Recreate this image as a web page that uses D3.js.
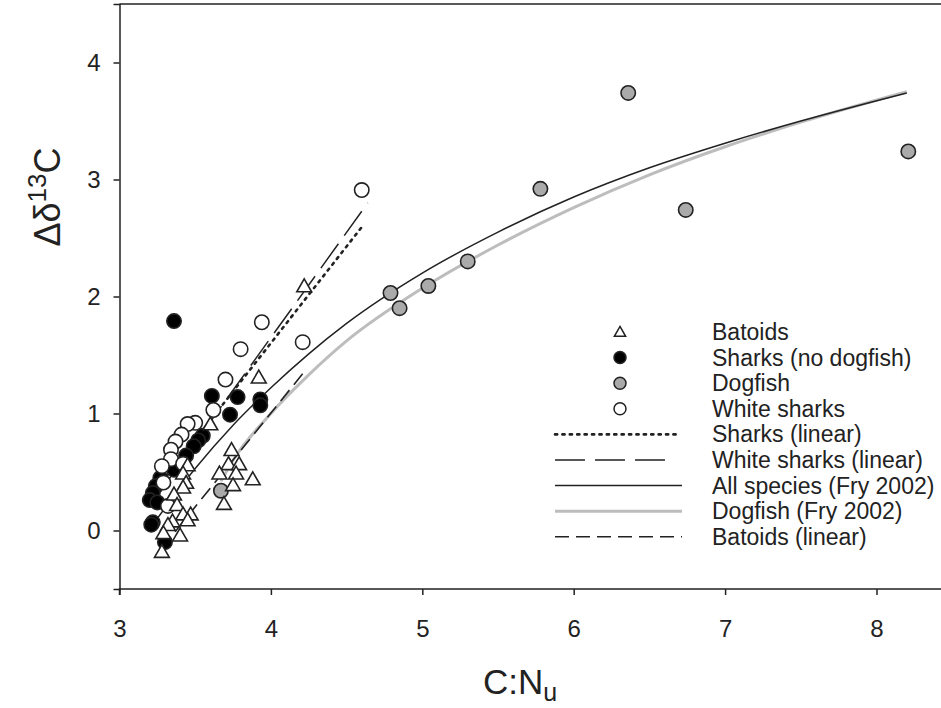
<!DOCTYPE html>
<html><head><meta charset="utf-8">
<script src="https://cdn.jsdelivr.net/npm/d3@7"></script>
<style>body{margin:0;background:#fff}svg{display:block}text{font-family:"Liberation Sans",Arial,sans-serif;fill:#222}</style>
</head><body><svg id="c" width="941" height="708"></svg>
<script>
// ---- data ----
const xTicks = [3,4,5,6,7,8];
const yTicks = [0,1,2,3,4];
const batoids = [[4.22,2.09],[3.92,1.31],[3.60,0.91],[3.74,0.69],[3.72,0.57],[3.79,0.57],[3.66,0.49],[3.77,0.49],[3.88,0.44],[3.75,0.39],[3.69,0.23],[3.45,0.56],[3.42,0.49],[3.44,0.41],[3.42,0.37],[3.36,0.31],[3.38,0.22],[3.47,0.14],[3.42,0.14],[3.45,0.09],[3.35,0.08],[3.32,0.05],[3.40,-0.04],[3.29,-0.02],[3.28,-0.18]];
const sharks = [[3.36,1.79],[3.61,1.15],[3.78,1.14],[3.93,1.12],[3.93,1.07],[3.73,0.99],[3.55,0.81],[3.52,0.77],[3.49,0.72],[3.44,0.64],[3.40,0.56],[3.36,0.52],[3.27,0.45],[3.24,0.38],[3.22,0.32],[3.20,0.26],[3.25,0.24],[3.22,0.07],[3.21,0.05],[3.30,-0.10]];
const dogfish = [[6.36,3.74],[8.21,3.24],[6.74,2.74],[5.78,2.92],[4.79,2.03],[4.85,1.90],[5.04,2.09],[5.30,2.30],[3.67,0.34]];
const whiteSharks = [[4.60,2.91],[4.21,1.61],[3.94,1.78],[3.80,1.55],[3.70,1.29],[3.62,1.03],[3.50,0.92],[3.45,0.91],[3.41,0.82],[3.37,0.76],[3.34,0.69],[3.34,0.61],[3.28,0.55],[3.42,0.57],[3.29,0.41],[3.32,0.21]];
const sharksLinear = [[3.20,0.28],[4.61,2.61]];
const whiteLinear = [[3.25,0.30],[4.64,2.80]];
const batoidsLinear = [[3.28,-0.15],[4.21,1.34]];
const allFry = [[3.22,0.05],[3.5,0.53],[3.75,0.90],[4.0,1.22],[4.25,1.51],[4.5,1.77],[5.0,2.20],[5.5,2.55],[6.0,2.85],[6.5,3.10],[7.0,3.31],[7.5,3.50],[8.2,3.74]];
const dogFry = [[3.67,0.42],[3.75,0.60],[4.0,1.00],[4.25,1.33],[4.5,1.62],[5.0,2.07],[5.5,2.44],[6.0,2.76],[6.5,3.04],[7.0,3.28],[7.5,3.49],[8.2,3.75]];
const legendLabels = ["Batoids","Sharks (no dogfish)","Dogfish","White sharks","Sharks (linear)","White sharks (linear)","All species (Fry 2002)","Dogfish (Fry 2002)","Batoids (linear)"];

// ---- drawing ----
const svg = d3.select("#c");
const x = d3.scaleLinear().domain([3,8.5]).range([119.5,952.2]);
const y = d3.scaleLinear().domain([-0.5,4.5]).range([589,4]);
const ink = "#222";

svg.append("line").attr("x1",x(3)).attr("x2",941).attr("y1",y(4.5)).attr("y2",y(4.5)).attr("stroke",ink).attr("stroke-width",1.5);

const xa = svg.append("g").attr("transform",`translate(0,${y(-0.5)})`)
  .call(d3.axisBottom(x).tickValues(xTicks).tickSize(6).tickPadding(25).tickFormat(d3.format("d")));
const ya = svg.append("g").attr("transform",`translate(${x(3)},0)`)
  .call(d3.axisLeft(y).tickValues(yTicks).tickSize(6).tickPadding(13).tickFormat(d3.format("d")));
[xa,ya].forEach(g=>{
  g.select(".domain").attr("stroke",ink).attr("stroke-width",1.5);
  g.selectAll(".tick line").attr("stroke",ink).attr("stroke-width",1.5);
  g.selectAll(".tick text").attr("font-size",24).attr("fill",ink).style("font-family","Liberation Sans, Arial, sans-serif");
});
xa.select(".domain").attr("d",`M${x(3)},6V0H941`);

const line = d3.line().x(d=>x(d[0])).y(d=>y(d[1]));
const curve = d3.line().x(d=>x(d[0])).y(d=>y(d[1])).curve(d3.curveMonotoneX);
const styles = {
  sLin:{stroke:ink,w:2.6,dash:"2.2,5.2",cap:"round"},
  wLin:{stroke:ink,w:1.5,dash:"30,10"},
  all:{stroke:ink,w:1.5,dash:null},
  dog:{stroke:"#bdbdbd",w:3,dash:null},
  bLin:{stroke:ink,w:1.6,dash:"14,7"}
};
function drawLine(data,st,gen){
  svg.append("path").datum(data).attr("d",gen).attr("fill","none")
    .attr("stroke",st.stroke).attr("stroke-width",st.w)
    .attr("stroke-dasharray",st.dash).attr("stroke-linecap",st.cap||"butt");
}
drawLine(dogFry,styles.dog,curve);
drawLine(allFry,styles.all,curve);
drawLine(batoidsLinear,styles.bLin,line);
drawLine(sharksLinear,styles.sLin,line);
drawLine(whiteLinear,styles.wLin,line);

const tri = d3.symbol().type(d3.symbolTriangle);
function circles(data,fill,r){
  svg.append("g").selectAll("circle").data(data).join("circle")
    .attr("cx",d=>x(d[0])).attr("cy",d=>y(d[1])).attr("r",r)
    .attr("fill",fill).attr("stroke",ink).attr("stroke-width",1.6);
}
function triangles(data,size){
  svg.append("g").selectAll("path").data(data).join("path")
    .attr("d",tri.size(size)()).attr("transform",d=>`translate(${x(d[0])},${y(d[1])+1.5})`)
    .attr("fill","#fff").attr("stroke",ink).attr("stroke-width",1.6);
}
circles(sharks,"#000",7.2);
circles(dogfish,"#aaaaaa",7.2);
circles(whiteSharks,"#fff",7.2);
triangles(batoids,95);

// legend
const lg = svg.append("g");
const ly0 = 332, ldy = 25.6, mx = 620, tx = 712;
legendLabels.forEach((t,i)=>{
  lg.append("text").attr("x",tx).attr("y",ly0+i*ldy).attr("dy","0.35em").attr("font-size",23).text(t);
});
lg.append("path").attr("d",tri.size(55)()).attr("transform",`translate(${mx},${ly0+1})`).attr("fill","#fff").attr("stroke",ink).attr("stroke-width",1.5);
[["#000",1],["#aaaaaa",2],["#fff",3]].forEach(([f,i])=>{
  lg.append("circle").attr("cx",mx).attr("cy",ly0+i*ldy).attr("r",6).attr("fill",f).attr("stroke",ink).attr("stroke-width",1.5);
});
[["sLin",4,677],["wLin",5,670],["all",6,682],["dog",7,682],["bLin",8,682]].forEach(([k,i,x2])=>{
  const st=styles[k];
  lg.append("line").attr("x1",555).attr("x2",x2).attr("y1",ly0+i*ldy).attr("y2",ly0+i*ldy)
    .attr("stroke",st.stroke).attr("stroke-width",st.w).attr("stroke-dasharray",st.dash).attr("stroke-linecap",st.cap||"butt");
});

// axis titles
const xt = svg.append("text").attr("x",520).attr("y",694).attr("text-anchor","middle").attr("font-size",35);
xt.append("tspan").text("C:N");
xt.append("tspan").attr("font-size",25).attr("dy",7).text("u");
const yt = svg.append("text").attr("transform","translate(60,197) rotate(-90)").attr("text-anchor","middle").attr("font-size",36);
yt.append("tspan").text("Δδ");
yt.append("tspan").attr("font-size",26).attr("dy",-14).text("13");
yt.append("tspan").attr("dy",14).text("C");
</script></body></html>
